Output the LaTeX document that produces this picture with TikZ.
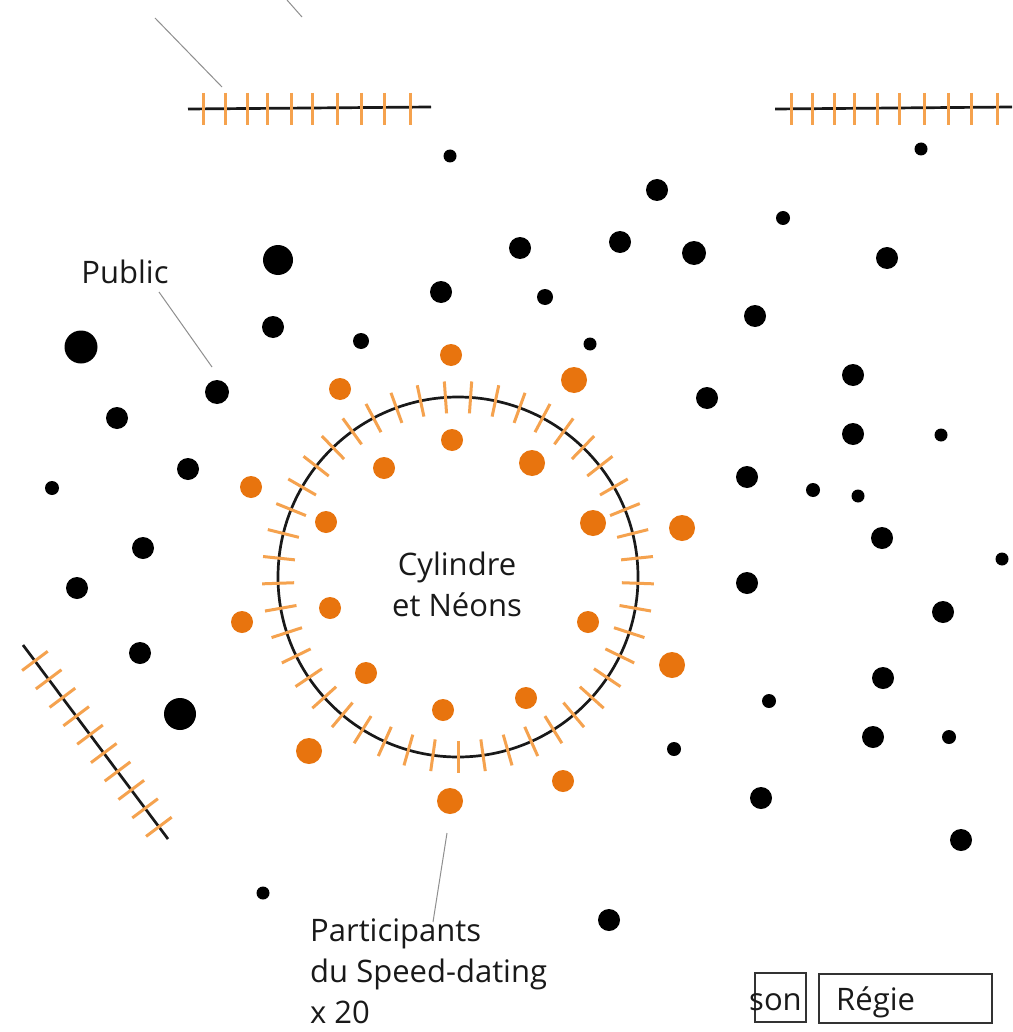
\documentclass[tikz,border=0pt]{standalone}
\usepackage{fontspec}
\setmainfont{Open Sans}
\usetikzlibrary{calc}
\definecolor{daterorange}{HTML}{E8740E}
\definecolor{neonorange}{HTML}{F5A24E}
\definecolor{leadgray}{HTML}{8F8F8F}

\begin{document}
\begin{tikzpicture}[x=1pt, y=-1pt,
  public/.style={circle, fill=black, inner sep=0pt, minimum size=#1},
  public/.default=22pt,
  dater/.style={circle, fill=daterorange, inner sep=0pt, minimum size=#1},
  dater/.default=22pt,
  neon/.style={neonorange, line width=3pt},
  wall/.style={black!90, line width=2.7pt},
  lead/.style={leadgray, line width=1pt},
  lbl/.style={inner sep=0pt, text=black!90, font=\fontsize{31}{41}\selectfont},
  box/.style={draw=black!80, line width=1.5pt, inner sep=0pt}]
\useasboundingbox[fill=white] (0,0) rectangle (1012,1032);

% cylinder with neons
\node[circle, draw=black!90, line width=2.7pt, inner sep=0pt, minimum size=360pt] (cyl) at (458,577){};
\foreach \a in {0,...,44}
  \draw[neon] ($(cyl.center)+({90+8*\a}:164)$) -- ($(cyl.center)+({90+8*\a}:196)$);
\node[lbl, align=center] (cyltxt) at (457,584) {Cylindre\\et Néons};

% neon walls
\coordinate (tla) at (188,109);
\coordinate (tlb) at (431,107);
\draw[wall] (tla) -- (tlb);
\foreach \x in {203,225,247,267,291,312,337,361,384,410}
  \draw[neon] (\x,93) -- (\x,125);
\coordinate (tra) at (775,109);
\coordinate (trb) at (1012,107);
\draw[wall] (tra) -- (trb);
\foreach \x in {791,812,834,854,877,899,924,948,971,997}
  \draw[neon] (\x,93) -- (\x,125);
\coordinate (bla) at (23,645);
\coordinate (blb) at (168,839);
\draw[wall] (bla) -- (blb);
\foreach \k in {0,...,9}
  \draw[neon] ($(bla)!{0.082+0.095*\k}!(blb)+(12.8,-9.6)$) -- ($(bla)!{0.082+0.095*\k}!(blb)+(-12.8,9.6)$);

% public
\node[public=13pt] (pub0) at (450,156){};
\node[public=13pt] (pub1) at (921,149){};
\node[public] (pub2) at (657,190){};
\node[public=14pt] (pub3) at (783,218){};
\node[public] (pub4) at (520,248){};
\node[public] (pub5) at (620,242){};
\node[public=24pt] (pub6) at (694,253){};
\node[public=30pt] (pub7) at (278,260){};
\node[public] (pub8) at (887,258){};
\node[public] (pub9) at (441,292){};
\node[public=16pt] (pub10) at (545,297){};
\node[public] (pub11) at (273,327){};
\node[public=16pt] (pub12) at (361,341){};
\node[public=13pt] (pub13) at (590,344){};
\node[public=33pt] (pub14) at (81,347){};
\node[public] (pub15) at (755,316){};
\node[public=24pt] (pub16) at (217,392){};
\node[public] (pub17) at (117,418){};
\node[public] (pub18) at (707,398){};
\node[public] (pub19) at (853,375){};
\node[public] (pub20) at (853,434){};
\node[public=13pt] (pub21) at (941,435){};
\node[public] (pub22) at (188,469){};
\node[public] (pub23) at (747,477){};
\node[public=14pt] (pub24) at (52,488){};
\node[public=14pt] (pub25) at (813,490){};
\node[public=13pt] (pub26) at (858,496){};
\node[public] (pub27) at (882,538){};
\node[public] (pub28) at (143,548){};
\node[public=13pt] (pub29) at (1002,559){};
\node[public] (pub30) at (77,588){};
\node[public] (pub31) at (747,583){};
\node[public] (pub32) at (943,612){};
\node[public] (pub33) at (140,653){};
\node[public] (pub34) at (883,678){};
\node[public=32pt] (pub35) at (180,714){};
\node[public=14pt] (pub36) at (769,701){};
\node[public] (pub37) at (873,737){};
\node[public=14pt] (pub38) at (949,737){};
\node[public=14pt] (pub39) at (674,749){};
\node[public] (pub40) at (761,798){};
\node[public] (pub41) at (961,840){};
\node[public=13pt] (pub42) at (263,893){};
\node[public] (pub43) at (609,920){};

% speed-dating participants
\node[dater] (dat0) at (451,355){};
\node[dater] (dat1) at (340,389){};
\node[dater=26pt] (dat2) at (574,380){};
\node[dater] (dat3) at (452,440){};
\node[dater] (dat4) at (384,468){};
\node[dater=26pt] (dat5) at (532,463){};
\node[dater] (dat6) at (251,487){};
\node[dater] (dat7) at (326,522){};
\node[dater=26pt] (dat8) at (593,523){};
\node[dater=26pt] (dat9) at (682,528){};
\node[dater] (dat10) at (330,608){};
\node[dater] (dat11) at (588,622){};
\node[dater] (dat12) at (242,622){};
\node[dater=26pt] (dat13) at (672,665){};
\node[dater] (dat14) at (366,673){};
\node[dater] (dat15) at (526,698){};
\node[dater] (dat16) at (443,710){};
\node[dater=26pt] (dat17) at (309,751){};
\node[dater] (dat18) at (563,781){};
\node[dater=26pt] (dat19) at (450,801){};

% labels
\node[lbl] (pubtxt) at (125,272) {Public};
\coordinate (pubfrom) at (159,292);
\coordinate (pubto) at (212,367);
\draw[lead] (pubfrom) -- (pubto);
\node[lbl, align=left, anchor=north west] (dattxt) at (310,919) {Participants\\du Speed-dating\\x 20};
\coordinate (datfrom) at (447,833);
\coordinate (datto) at (433,922);
\draw[lead] (datfrom) -- (datto);
\coordinate (cuta) at (155,18);
\coordinate (cutb) at (222,87);
\draw[lead] (cuta) -- (cutb);
\coordinate (cutc) at (287,0);
\coordinate (cutd) at (302,17);
\draw[lead] (cutc) -- (cutd);

% control desk
\node[box, minimum width=51pt, minimum height=49pt] (sonbox) at (780.5,997.5){};
\node[lbl, anchor=base west] (sontxt) at (749,1010) {son};
\node[box, minimum width=173pt, minimum height=49pt] (regbox) at (905.5,998.5){};
\node[lbl, anchor=base west] (regtxt) at (836,1010) {Régie};

\end{tikzpicture}
\end{document}
